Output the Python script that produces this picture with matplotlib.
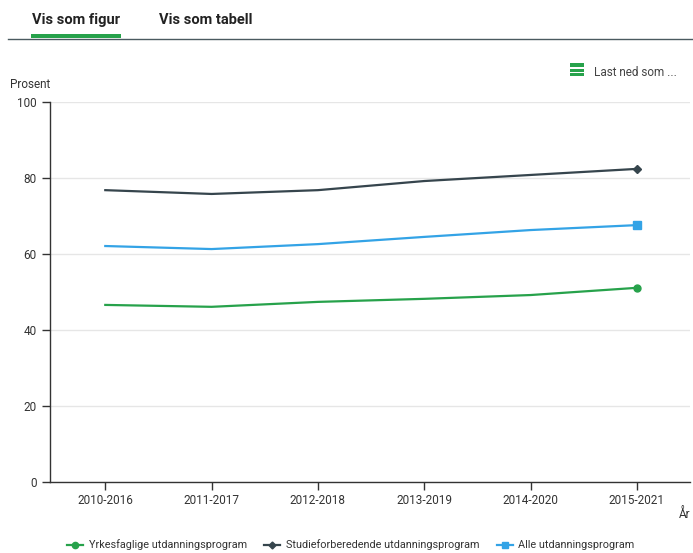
import matplotlib.pyplot as plt
from matplotlib.patches import Rectangle
from matplotlib.lines import Line2D

plt.rcParams['font.family'] = ['Roboto', 'DejaVu Sans']

perioder = ['2010-2016', '2011-2017', '2012-2018', '2013-2019', '2014-2020', '2015-2021']
yrkesfag = [46.6, 46.1, 47.4, 48.2, 49.2, 51.1]
studieforb = [76.8, 75.8, 76.8, 79.2, 80.8, 82.4]
alle = [62.1, 61.3, 62.6, 64.5, 66.3, 67.6]

GREEN = '#27a24b'
DARK = '#36454d'
BLUE = '#33a3e6'

W, H = 693, 553
fig = plt.figure(figsize=(W / 100, H / 100), dpi=100)

def fx(px):
    return px / W

def fy(py):
    return 1 - py / H

ax = fig.add_axes([fx(50), fy(482), fx(640), 380 / H])

x = list(range(len(perioder)))
series = [
    (yrkesfag, GREEN, 'o', 5, 'Yrkesfaglige utdanningsprogram'),
    (studieforb, DARK, 'D', 4, 'Studieforberedende utdanningsprogram'),
    (alle, BLUE, 's', 5.5, 'Alle utdanningsprogram'),
]
for vals, col, mk, ms, lab in series:
    ax.plot(x, vals, color=col, lw=1.6, zorder=3)
    ax.plot(x[-1], vals[-1], marker=mk, color=col, ms=ms, zorder=4)

ax.set_xlim(-0.52, 5.5)
ax.set_ylim(0, 100)
ax.set_yticks([0, 20, 40, 60, 80, 100])
ax.set_xticks(x)
ax.set_xticklabels(perioder)
ax.grid(axis='y', color='#e6e6e6', lw=1)
ax.set_axisbelow(True)
for s in ['top', 'right']:
    ax.spines[s].set_visible(False)
for s in ['left', 'bottom']:
    ax.spines[s].set_color('#333333')
    ax.spines[s].set_linewidth(1)
ax.tick_params(axis='both', colors='#333333', labelsize=8.5, length=6, width=1)
ax.tick_params(axis='x', pad=3)

fig.text(fx(10), fy(84), 'Prosent', fontsize=8.5, color='#333333', va='center', ha='left')
fig.text(fx(679), fy(515), 'År', fontsize=8.5, color='#333333', va='center', ha='left')

handles = [Line2D([0], [0], color=c, lw=1.6, marker=m, ms=ms - 0.5, label=l)
           for _, c, m, ms, l in series]
fig.legend(handles=handles, loc='center', bbox_to_anchor=(0.506, fy(545)), ncol=3,
           frameon=False, fontsize=7.8, handlelength=1.5, columnspacing=1.6,
           handletextpad=0.5, labelcolor='#333333')

# header tabs
fig.text(fx(32), fy(20), 'Vis som figur', fontsize=10.5, fontweight='bold', color='#222222', va='center')
fig.text(fx(159), fy(20), 'Vis som tabell', fontsize=10.5, fontweight='bold', color='#222222', va='center')
fig.add_artist(Line2D([fx(8), 1], [fy(38.5), fy(38.5)], color='#4a5a60', lw=1))
fig.add_artist(Rectangle((fx(31), fy(38)), fx(90), 3.5 / H, color=GREEN, lw=0))

# download menu
for yy in [65, 70, 75]:
    fig.add_artist(Rectangle((fx(570), fy(yy + 1.5)), fx(14), 3 / H, color=GREEN, lw=0))
fig.text(fx(594), fy(72), 'Last ned som ...', fontsize=8.5, color='#444444', va='center')

fig.savefig('out.png', dpi=100)
